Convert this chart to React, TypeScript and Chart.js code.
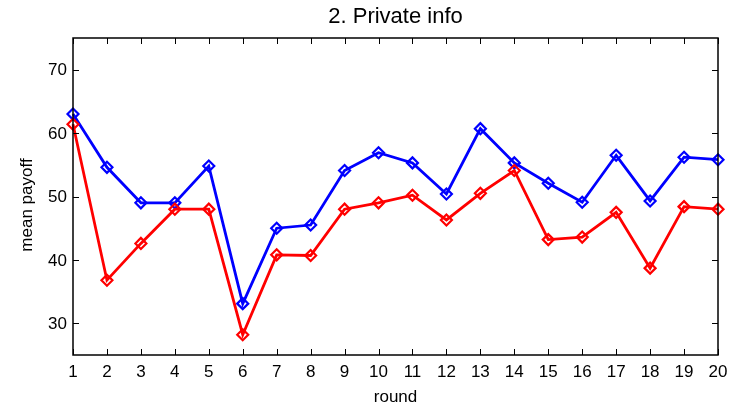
import React, { useEffect, useRef } from "react";
import { Chart, registerables } from "chart.js";

Chart.register(...registerables);

// Rounds 1–20 of the session
const rounds = ["1", "2", "3", "4", "5", "6", "7", "8", "9", "10", "11", "12", "13", "14", "15", "16", "17", "18", "19", "20"];

// Mean payoff per round
const bluePayoff = [63.0, 54.6, 49.0, 49.0, 54.8, 33.1, 45.0, 45.5, 54.1, 56.9, 55.3, 50.4, 60.7, 55.3, 52.1, 49.1, 56.5, 49.3, 56.2, 55.8];
const redPayoff = [61.4, 36.8, 42.6, 48.0, 48.0, 28.2, 40.8, 40.7, 48.0, 49.0, 50.2, 46.3, 50.5, 54.1, 43.2, 43.6, 47.5, 38.7, 48.4, 48.0];

const yTicks = [30, 40, 50, 60, 70];
const yMin = 25;
const yMax = 75;

const titleText = "2. Private info";
const xTitle = "round";
const yTitle = "mean payoff";

const FONT = "'Liberation Sans', Arial, sans-serif";

// Box around the axes with inward tick marks on all four sides, plus the y label
const boxPlugin = {
  id: "matlabBox",
  afterDraw(chart: any) {
    const { ctx, chartArea } = chart;
    const { left, right, top, bottom } = chartArea;
    const xs = chart.scales.x;
    const ys = chart.scales.y;
    const tick = 6;
    ctx.save();
    ctx.strokeStyle = "#000";
    ctx.lineWidth = 1;
    ctx.beginPath();
    xs.ticks.forEach((_t: any, i: number) => {
      const px = Math.round(xs.getPixelForTick(i)) + 0.5;
      ctx.moveTo(px, bottom);
      ctx.lineTo(px, bottom - tick);
      ctx.moveTo(px, top);
      ctx.lineTo(px, top + tick);
    });
    ys.ticks.forEach((t: any) => {
      const py = Math.round(ys.getPixelForValue(t.value)) + 0.5;
      ctx.moveTo(left, py);
      ctx.lineTo(left + tick, py);
      ctx.moveTo(right, py);
      ctx.lineTo(right - tick, py);
    });
    ctx.stroke();
    ctx.lineWidth = 1.5;
    ctx.strokeRect(left, top, right - left, bottom - top);

    ctx.fillStyle = "#000";
    ctx.font = `17px ${FONT}`;
    ctx.textAlign = "center";
    ctx.textBaseline = "middle";
    ctx.translate(27, 205);
    ctx.rotate(-Math.PI / 2);
    ctx.fillText(yTitle, 0, 0);
    ctx.restore();
  },
};

export default function App() {
  const canvasRef = useRef<HTMLCanvasElement | null>(null);

  useEffect(() => {
    if (!canvasRef.current) return;
    const chart = new Chart(canvasRef.current, {
      type: "line",
      data: {
        labels: rounds,
        datasets: [
          {
            label: "blue",
            data: bluePayoff,
            borderColor: "#0000ff",
            backgroundColor: "rgba(0,0,0,0)",
            borderWidth: 2.8,
            pointStyle: "rectRot",
            pointRadius: 5.5,
            pointBorderWidth: 2.2,
            pointBorderColor: "#0000ff",
            pointBackgroundColor: "rgba(0,0,0,0)",
            tension: 0,
            order: 1,
          },
          {
            label: "red",
            data: redPayoff,
            borderColor: "#ff0000",
            backgroundColor: "rgba(0,0,0,0)",
            borderWidth: 2.8,
            pointStyle: "rectRot",
            pointRadius: 5.5,
            pointBorderWidth: 2.2,
            pointBorderColor: "#ff0000",
            pointBackgroundColor: "rgba(0,0,0,0)",
            tension: 0,
            order: 0,
          },
        ],
      },
      options: {
        responsive: false,
        animation: false,
        layout: { padding: { top: 0, right: 20, bottom: 0, left: 0 } },
        plugins: {
          legend: { display: false },
          tooltip: { enabled: false },
          title: {
            display: true,
            text: titleText,
            fullSize: false,
            color: "#000",
            font: { family: FONT, size: 22, weight: "normal", lineHeight: 1.2 },
            padding: { top: 4, bottom: 7.6 },
          },
        },
        scales: {
          x: {
            type: "category",
            offset: false,
            grid: { display: false, drawTicks: false },
            border: { display: false },
            ticks: {
              autoSkip: false,
              maxRotation: 0,
              padding: 7,
              color: "#000",
              font: { family: FONT, size: 17 },
            },
            title: {
              display: true,
              text: xTitle,
              color: "#000",
              font: { family: FONT, size: 17, lineHeight: 1.2 },
              padding: { top: 0, bottom: 1.7 },
            },
            afterFit: (scale: any) => {
              scale.height = 54;
            },
          },
          y: {
            min: yMin,
            max: yMax,
            grid: { display: false, drawTicks: false },
            border: { display: false },
            afterBuildTicks: (scale: any) => {
              scale.ticks = yTicks.map((v) => ({ value: v }));
            },
            ticks: {
              padding: 6,
              labelOffset: 1,
              color: "#000",
              font: { family: FONT, size: 17 },
            },
            afterFit: (scale: any) => {
              scale.width = 73;
            },
          },
        },
      },
      plugins: [boxPlugin],
    });
    return () => chart.destroy();
  }, []);

  return (
    <div style={{ position: "absolute", left: 0, top: 0, width: 738, height: 409, background: "#fff" }}>
      <canvas ref={canvasRef} width={738} height={409} />
    </div>
  );
}
